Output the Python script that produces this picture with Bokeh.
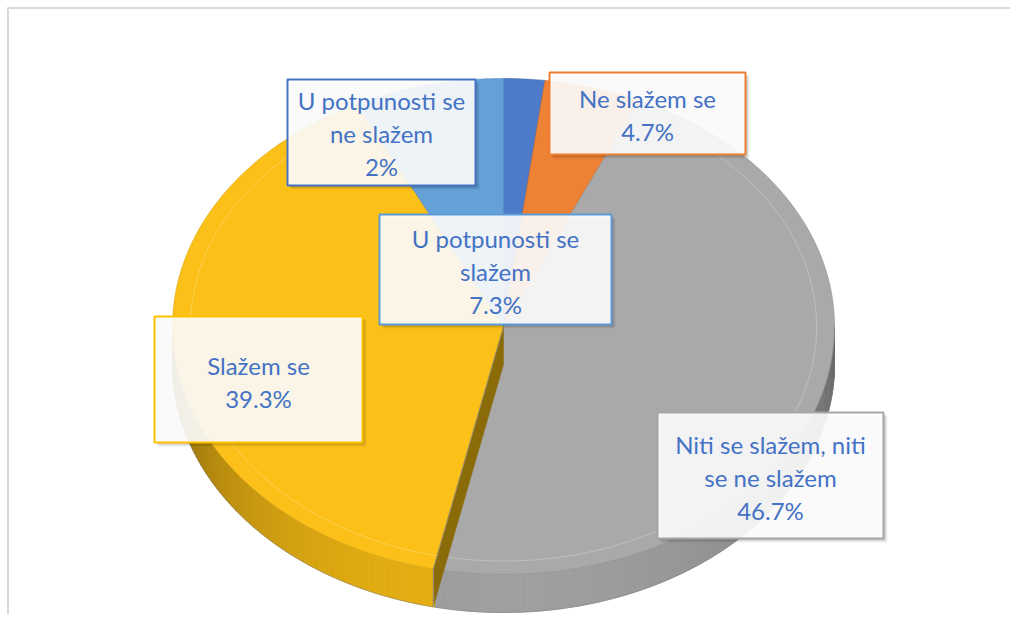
import numpy as np
from bokeh.plotting import figure
from bokeh.models import Range1d
from bokeh.embed import file_html
from bokeh.resources import INLINE
from bokeh.core.properties import value

# ---- data ----
categories = ["U potpunosti se ne slažem", "Ne slažem se",
              "Niti se slažem, niti se ne slažem", "Slažem se",
              "U potpunosti se slažem"]
values = [2.0, 4.7, 46.7, 39.3, 7.3]
pct_labels = ["2%", "4.7%", "46.7%", "39.3%", "7.3%"]
label_lines = [["U potpunosti se", "ne slažem"], ["Ne slažem se"],
               ["Niti se slažem, niti", "se ne slažem"], ["Slažem se"],
               ["U potpunosti se", "slažem"]]

# ---- styles / layout ----
colors = ["#4E7BC9", "#ED8235", "#A9A9A9", "#FBC118", "#65A1D8"]
side_base = [(68, 114, 196), (237, 125, 49), (172, 172, 172), (250, 190, 20), (91, 155, 213)]
border_colors = ["#4472C4", "#ED7D31", "#A5A5A5", "#FFC000", "#5B9BD5"]
boxes = [(287, 79, 475, 185), (549, 72, 745, 154), (657, 412, 883, 538),
         (154, 316, 362, 442), (379, 214, 611, 324)]
first_line_y = [100, 98, 444, 365, 238]
line_step = 33
text_color = "#4472C4"
font = "Lato"
font_size = "24px"

cx, cy, a, b, depth = 503.0, 326.0, 331.0, 248.0, 38.0


def pt(theta_deg, scale=1.0):
    t = np.radians(theta_deg)
    return cx + a * scale * np.sin(t), cy - b * scale * np.cos(t)


W, H = 1010, 614
p = figure(width=W, height=H, x_range=Range1d(0, W), y_range=Range1d(H, 0),
           output_backend="svg", toolbar_location=None, min_border=0)
p.axis.visible = False
p.grid.visible = False
p.outline_line_color = None
p.background_fill_color = "white"
p.border_fill_color = "white"

# chart area border (top and left visible)
p.segment(x0=[7, 7.5], y0=[7.5, 7], x1=[W, 7.5], y1=[7.5, H], line_color="#D9D9D9", line_width=2)

total = float(sum(values))
bounds = [0.0]
for v in values:
    bounds.append(bounds[-1] + v / total * 360.0)


def slice_of(theta):
    for i in range(len(values)):
        if bounds[i] <= theta < bounds[i + 1]:
            return i
    return len(values) - 1


def shade(theta):
    if theta >= 185:
        f = 0.92 - 0.45 * ((theta - 185) / 85.0) ** 2
    else:
        f = 0.93 - 0.35 * ((185 - theta) / 95.0) ** 2
    return f

# ---- side walls (front half) ----
xs_side, ys_side, col_side = [], [], []
step = 1.0
th = 90.0
while th < 270.0:
    t2 = min(th + step, 270.0)
    x1, y1 = pt(th)
    x2, y2 = pt(t2)
    xs_side.append([x1, x2, x2, x1])
    ys_side.append([y1, y2, y2 + depth, y1 + depth])
    i = slice_of((th + t2) / 2)
    f = shade((th + t2) / 2)
    r, g, bb = side_base[i]
    col_side.append("#%02x%02x%02x" % (int(r * f), int(g * f), int(bb * f)))
    th = t2
p.patches(xs_side, ys_side, fill_color=col_side, line_color=col_side, line_width=0.8)
# bottom rim outline
ang = np.linspace(90, 270, 181)
bx = [pt(t)[0] for t in ang]
by = [pt(t)[1] + depth for t in ang]
p.line(bx, by, line_color="#808080", line_alpha=0.5, line_width=1)

# ---- top faces ----
xs_top, ys_top = [], []
for i in range(len(values)):
    angs = np.linspace(bounds[i], bounds[i + 1], max(3, int((bounds[i + 1] - bounds[i]) * 2)))
    xs = [cx] + [pt(t)[0] for t in angs]
    ys = [cy] + [pt(t)[1] for t in angs]
    xs_top.append(xs)
    ys_top.append(ys)
p.patches(xs_top, ys_top, fill_color=colors, line_color=[
    "#3F67AE", "#C9692A", "#8F8F8F", "#D9A514", "#5289BD"], line_width=1, line_alpha=0.6)

# inner bevel line
ang2 = np.linspace(bounds[2] + 3, bounds[4] - 3, 200)
p.line([pt(t, 0.946)[0] for t in ang2], [pt(t, 0.946)[1] for t in ang2],
       line_color="white", line_alpha=0.25, line_width=1)

# cut wall of the yellow slice visible next to the grey one
px_, py_ = pt(bounds[3])
p.patch([cx, px_, px_, cx], [cy, py_, py_ + depth, cy + depth],
        fill_color="#8A6B08", line_color="#8A6B08", line_width=0.5)
p.line([cx, px_], [cy, py_], line_color="#A0A0A0", line_alpha=0.7, line_width=1)
p.line([px_, px_], [py_, py_ + depth], line_color="#9A9A9A", line_alpha=0.8, line_width=1)

# ---- data labels ----
for i in range(len(values)):
    x0, y0, x1, y1 = boxes[i]
    # soft shadow
    for off, al in [(4, 0.05), (3, 0.07), (2, 0.08)]:
        p.quad(left=x0 + off, right=x1 + off, top=y0 + off, bottom=y1 + off,
               fill_color="black", fill_alpha=al, line_color=None)
    p.quad(left=x0, right=x1, top=y0, bottom=y1, fill_color="white", fill_alpha=0.9,
           line_color=border_colors[i], line_width=2)
    lines = label_lines[i] + [pct_labels[i]]
    xc = (x0 + x1) / 2.0
    p.text(x=[xc] * len(lines), y=[first_line_y[i] + k * line_step for k in range(len(lines))],
           text=lines, text_align="center", text_baseline="middle",
           text_font=value(font), text_font_size=font_size, text_color=text_color)

open("out.html", "w").write(file_html(p, INLINE))
